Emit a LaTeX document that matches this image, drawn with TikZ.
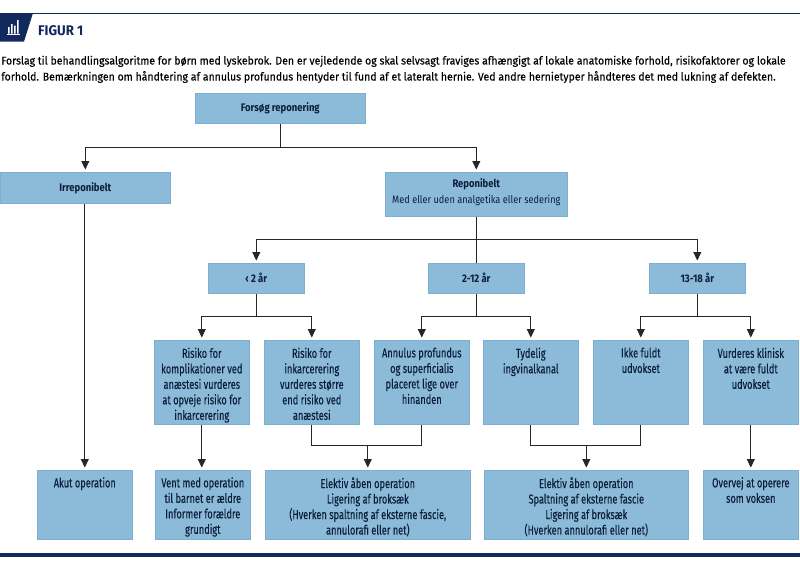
\documentclass[tikz,border=0pt]{standalone}
\usepackage{fontspec}
\setmainfont{Fira Sans}
\newfontfamily\introf[FakeStretch=0.94,FakeBold=0.3]{Fira Sans}
\newfontfamily\boxf[FakeStretch=0.71,FakeBold=0.2]{Fira Sans}
\newfontfamily\headf[FakeStretch=0.86]{Fira Sans}
\newfontfamily\figf[FakeStretch=0.95]{Fira Sans}
\usetikzlibrary{arrows.meta,positioning,calc}
\definecolor{navy}{HTML}{12295E}
\definecolor{ink}{HTML}{0C1E3A}
\definecolor{boxfill}{HTML}{8BBBD9}
\definecolor{boxedge}{HTML}{7DB0D0}
\tikzset{
  flowbox/.style={draw=boxedge,line width=0.6pt,fill=boxfill,inner sep=0pt,anchor=north west,text=ink},
  flowline/.style={draw=black!85,line width=0.9pt},
  flowarrow/.style={flowline,-{Triangle[length=8.5pt,width=8pt]},shorten >=2.5pt},
  boxlabel/.style={text=ink,font=\boxf\fontsize{13}{15.5}\selectfont,align=center,anchor=north,inner sep=0pt},
  smalllabel/.style={text=ink,font=\headf\bfseries\fontsize{11}{15}\selectfont,align=center,inner sep=0pt},
  intro/.style={text=black,font=\introf\fontsize{11.2}{12}\selectfont,anchor=base west,inner sep=0pt}
}
\begin{document}
\begin{tikzpicture}[x=1pt,y=-1pt]
\useasboundingbox (0,0) rectangle (800,560);
% header
\fill[white] (0,0) rectangle (800,560);
\draw[navy,line width=1pt] (0,13.5) -- (800,13.5);
\fill[navy] (0,13) -- (33,13) -- (24,41.5) -- (0,41.5) -- cycle;
\fill[white] (8,27) rectangle (9.6,33.5) (11,24) rectangle (12.6,33.5) (14,25.5) rectangle (15.6,33.5) (17,20) rectangle (18.6,33.5);
\fill[white] (6.5,34) rectangle (19.5,35);
\node[text=navy,font=\figf\bfseries\fontsize{14}{16}\selectfont,anchor=base west,inner sep=0pt] (figlabel) at (38,35) {FIGUR 1};
\node[intro] (introa) at (1,64.5) {Forslag til behandlingsalgoritme for børn med lyskebrok. Den er vejledende og skal selvsagt fraviges afhængigt af lokale anatomiske forhold, risikofaktorer og lokale};
\node[intro] (introb) at (1,80.5) {forhold. Bemærkningen om håndtering af annulus profundus hentyder til fund af et lateralt hernie. Ved andre hernietyper håndteres det med lukning af defekten.};
% boxes
\node[flowbox,minimum width=170pt,minimum height=30pt] (forsog) at (195,93) {};
\node[flowbox,minimum width=170pt,minimum height=31pt] (irr) at (0,172) {};
\node[flowbox,minimum width=182pt,minimum height=44pt] (rep) at (385,172) {};
\node[flowbox,minimum width=96pt,minimum height=30pt] (agea) at (208,263) {};
\node[flowbox,minimum width=96pt,minimum height=30pt] (ageb) at (428,263) {};
\node[flowbox,minimum width=96pt,minimum height=30pt] (agec) at (649,263) {};
\node[flowbox,minimum width=95pt,minimum height=84pt] (ra) at (154,340) {};
\node[flowbox,minimum width=95pt,minimum height=84pt] (rb) at (264,340) {};
\node[flowbox,minimum width=95pt,minimum height=84pt] (rc) at (374,340) {};
\node[flowbox,minimum width=95pt,minimum height=84pt] (rd) at (483,340) {};
\node[flowbox,minimum width=95pt,minimum height=84pt] (re) at (593,340) {};
\node[flowbox,minimum width=95pt,minimum height=84pt] (rf) at (703,340) {};
\node[flowbox,minimum width=95pt,minimum height=69pt] (ba) at (37,470) {};
\node[flowbox,minimum width=95pt,minimum height=69pt] (bb) at (155,470) {};
\node[flowbox,minimum width=205pt,minimum height=69pt] (bc) at (265,470) {};
\node[flowbox,minimum width=204pt,minimum height=69pt] (bd) at (484,470) {};
\node[flowbox,minimum width=95pt,minimum height=69pt] (be) at (703,470) {};
% labels
\node[smalllabel] (lforsog) at (forsog.center) {Forsøg reponering};
\node[smalllabel] (lirr) at (irr.center) {Irreponibelt};
\node[smalllabel,anchor=north] (lrep) at ($(rep.north)+(0,6)$) {Reponibelt\\[1pt]\mdseries\fontsize{10.7}{15}\selectfont Med eller uden analgetika eller sedering};
\node[smalllabel] (lagea) at (agea.center) {‹ 2 år};
\node[smalllabel] (lageb) at (ageb.center) {2-12 år};
\node[smalllabel] (lagec) at (agec.center) {13-18 år};
\node[boxlabel] (lra) at ($(ra.north)+(0,7.5)$) {Risiko for\\komplikationer ved\\anæstesi vurderes\\at opveje risiko for\\inkarcerering};
\node[boxlabel] (lrb) at ($(rb.north)+(0,7.5)$) {Risiko for\\inkarcerering\\vurderes større\\end risiko ved\\anæstesi};
\node[boxlabel] (lrc) at ($(rc.north)+(0,7.5)$) {Annulus profundus\\og superficialis\\placeret lige over\\hinanden};
\node[boxlabel] (lrd) at ($(rd.north)+(0,7.5)$) {Tydelig\\ingvinalkanal};
\node[boxlabel] (lre) at ($(re.north)+(0,7.5)$) {Ikke fuldt\\udvokset};
\node[boxlabel] (lrf) at ($(rf.north)+(0,7.5)$) {Vurderes klinisk\\at være fuldt\\udvokset};
\node[boxlabel] (lba) at ($(ba.north)+(0,7)$) {Akut operation};
\node[boxlabel] (lbb) at ($(bb.north)+(0,7)$) {Vent med operation\\til barnet er ældre\\Informer forældre\\grundigt};
\node[boxlabel] (lbc) at ($(bc.north)+(0,7)$) {Elektiv åben operation\\Ligering af broksæk\\(Hverken spaltning af eksterne fascie,\\annulorafi eller net)};
\node[boxlabel] (lbd) at ($(bd.north)+(0,7)$) {Elektiv åben operation\\Spaltning af eksterne fascie\\Ligering af broksæk\\(Hverken annulorafi eller net)};
\node[boxlabel] (lbe) at ($(be.north)+(0,7)$) {Overvej at operere\\som voksen};
% connectors
\coordinate (topbus) at (0,147);
\coordinate (midbus) at (0,239);
\coordinate (lowbus) at (0,316);
\coordinate (joinbus) at (0,445.5);
\draw[flowline] (forsog.south) -- (forsog.south |- topbus);
\draw[flowarrow] (forsog.south |- topbus) -| (irr.north);
\draw[flowarrow] (forsog.south |- topbus) -| (rep.north);
\draw[flowline] (rep.south) -- (ageb.north);
\draw[flowarrow] (rep.south |- midbus) -| (agea.north);
\draw[flowarrow] (rep.south |- midbus) -| (agec.north);
\foreach \pp/\ql/\qr in {agea/ra/rb,ageb/rc/rd,agec/re/rf}{
  \draw[flowline] (\pp.south) -- (\pp.south |- lowbus);
  \draw[flowarrow] (\pp.south |- lowbus) -| (\ql.north);
  \draw[flowarrow] (\pp.south |- lowbus) -| (\qr.north);
}
\draw[flowarrow] (ba.north |- irr.south) -- (ba.north);
\draw[flowarrow] (ra.south) -- (bb.north -| ra.south);
\draw[flowarrow] (rf.south) -- (be.north);
\draw[flowline] (rb.south) |- (joinbus -| rc.south) -- (rc.south);
\draw[flowarrow] (bc.north |- joinbus) -- (bc.north);
\draw[flowline] (rd.south) |- (joinbus -| re.south) -- (re.south);
\draw[flowarrow] (bd.north |- joinbus) -- (bd.north);
% footer rule
\fill[navy] (0,553) rectangle (800,556.5);
\end{tikzpicture}
\end{document}
